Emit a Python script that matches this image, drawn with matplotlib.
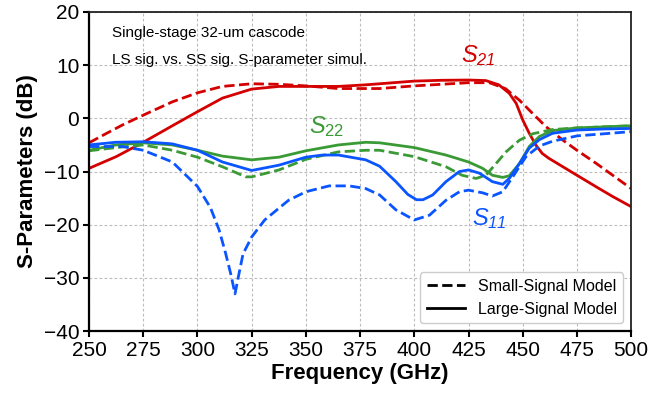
import matplotlib
matplotlib.use("Agg")
import matplotlib.pyplot as plt

plt.rcParams['font.family'] = ['Liberation Sans', 'DejaVu Sans']
plt.rcParams['mathtext.fontset'] = 'custom'
plt.rcParams['mathtext.rm'] = 'Liberation Sans:italic'
plt.rcParams['mathtext.it'] = 'Liberation Sans:italic'
plt.rcParams['mathtext.sf'] = 'Liberation Sans'

# ---- data ----
f_s21_ss = [250, 257.7, 265.4, 275, 288.4, 300, 311.5, 325, 337.6, 350, 365, 377.6, 384, 400, 412.5, 425, 434.6, 442, 448.5, 454.6, 460.8, 468.5, 475, 484, 491.5, 500]
s21_ss = [-4.6, -2.9, -1.25, 0.6, 3.1, 4.8, 6.0, 6.5, 6.4, 6.1, 5.6, 5.6, 5.6, 6.1, 6.4, 6.7, 6.7, 5.6, 3.4, 0.9, -1.6, -4.1, -6.0, -8.5, -10.7, -13.2]

f_s21_ls = [250, 262.5, 275, 288.4, 300, 311.5, 325, 337.6, 350, 365, 377.6, 384, 400, 412.5, 425, 433, 439, 443.8, 447, 450, 453, 456, 459, 462, 468.5, 475, 484, 491.5, 500]
s21_ls = [-9.4, -7.2, -4.5, -1.4, 1.25, 3.8, 5.5, 6.0, 6.0, 6.0, 6.3, 6.5, 7.0, 7.15, 7.2, 7.1, 6.3, 4.7, 2.8, -0.3, -2.8, -5.0, -6.6, -7.5, -9.1, -10.7, -12.9, -14.7, -16.6]

f_s22_ls = [250, 262.3, 275, 288.4, 300, 311.5, 325, 337.6, 350, 365, 377.6, 384, 400, 414.6, 425, 431.5, 436, 440.8, 443.8, 448.5, 453, 457.7, 463.8, 475, 487.5, 500]
s22_ls = [-6.0, -5.0, -4.6, -5.0, -6.0, -7.1, -7.8, -7.3, -6.1, -5.0, -4.5, -4.6, -5.5, -6.9, -8.2, -9.4, -10.7, -11.1, -10.8, -8.5, -5.3, -3.4, -2.3, -1.8, -1.6, -1.4]

f_s22_ss = [250, 262.3, 275, 288.4, 300, 311.5, 322.3, 325, 337.6, 350, 365, 377.6, 384, 400, 414.6, 422, 428.5, 433, 437.7, 442.3, 448.5, 454.6, 463.8, 475, 487.5, 500]
s22_ss = [-6.1, -5.5, -5.0, -6.0, -7.3, -9.1, -11.0, -11.0, -9.7, -7.7, -6.3, -6.0, -6.0, -7.2, -9.1, -10.7, -11.3, -10.7, -8.5, -6.3, -4.1, -2.9, -2.1, -1.8, -1.6, -1.4]

f_s11_ls = [250, 262.3, 275, 288.4, 300, 311.5, 325, 337.6, 350, 357.6, 365, 377.6, 384, 391.5, 397, 401, 404, 408.5, 414.6, 420.8, 425, 430, 436, 440.8, 443.8, 448.5, 453, 457.7, 463.8, 475, 487.5, 500]
s11_ls = [-5.0, -4.5, -4.4, -4.8, -6.0, -8.2, -9.8, -8.8, -7.3, -6.9, -6.9, -7.8, -9.0, -11.9, -14.3, -15.3, -15.3, -14.4, -11.9, -10.0, -9.7, -10.3, -11.9, -12.4, -11.3, -8.5, -5.6, -4.0, -2.8, -2.2, -2.0, -1.9]

f_s11_ss = [250, 265.4, 275, 288.4, 300, 306, 310, 313, 315.5, 317.3, 319, 321, 325, 331, 342, 350, 360.7, 370, 377.6, 384, 391.5, 400, 407, 414.6, 420.8, 425, 431.5, 436, 440.8, 445.4, 451.5, 457.7, 463.8, 475, 487.5, 500]
s11_ss = [-5.3, -5.3, -6.0, -8.2, -12.8, -16.8, -21.0, -25.4, -29.5, -33.0, -29.5, -25.5, -22.3, -19.1, -15.4, -13.8, -12.7, -12.7, -13.2, -14.4, -17.2, -19.1, -18.2, -15.4, -13.8, -13.5, -14.0, -14.6, -13.8, -11.0, -7.2, -5.2, -4.3, -3.3, -2.9, -2.5]

red = '#D40000'
green = '#3A9A35'
blue = '#0A55FF'
lw = 2.0

fig = plt.figure(figsize=(6.5, 3.98), dpi=100)
ax = fig.add_axes([0.137, 0.168, 0.834, 0.802])

ax.plot(f_s21_ss, s21_ss, color=red, lw=lw, ls='--')
ax.plot(f_s21_ls, s21_ls, color=red, lw=lw, ls='-')
ax.plot(f_s22_ss, s22_ss, color=green, lw=lw, ls='--')
ax.plot(f_s22_ls, s22_ls, color=green, lw=lw, ls='-')
ax.plot(f_s11_ss, s11_ss, color=blue, lw=lw, ls='--')
ax.plot(f_s11_ls, s11_ls, color=blue, lw=lw, ls='-')

ax.set_xlim(250, 500)
ax.set_ylim(-40, 20)
ax.set_xticks([250, 275, 300, 325, 350, 375, 400, 425, 450, 475, 500])
ax.set_yticks([-40, -30, -20, -10, 0, 10, 20])
ax.tick_params(direction='out', length=4, width=1.5, labelsize=15, pad=3)
ax.grid(True, color='#BBBBBB', lw=0.8, ls=(0, (2.5, 2)))
ax.set_axisbelow(True)
for s in ['left', 'bottom']:
    ax.spines[s].set_linewidth(1.6)
    ax.spines[s].set_color('black')
for s in ['top', 'right']:
    ax.spines[s].set_linewidth(1.3)
    ax.spines[s].set_color('#222222')

ax.set_xlabel('Frequency (GHz)', fontsize=16, fontweight='bold', labelpad=2)
ax.set_ylabel('S-Parameters (dB)', fontsize=16, fontweight='bold', labelpad=4)

ax.text(260.6, 15.3, 'Single-stage 32-um cascode', fontsize=11, va='baseline')
ax.text(260.6, 10.2, 'LS sig. vs. SS sig. S-parameter simul.', fontsize=11, va='baseline')

ax.text(421.4, 10.65, r'$S_{21}$', color=red, fontsize=17, va='baseline')
ax.text(351.5, -2.7, r'$S_{\mathsf{22}}$', color=green, fontsize=17, va='baseline')
ax.text(426.5, -20.06, r'$S_{11}$', color=blue, fontsize=17, va='baseline')

h1, = ax.plot([], [], color='black', lw=lw, ls='--', label='Small-Signal Model')
h2, = ax.plot([], [], color='black', lw=lw, ls='-', label='Large-Signal Model')
leg = ax.legend(handles=[h1, h2], loc='lower right', fontsize=11.5, handlelength=2.4,
                frameon=True, fancybox=True, framealpha=1, edgecolor='#CCCCCC',
                borderaxespad=0.5)

fig.savefig('out.png', dpi=100)
